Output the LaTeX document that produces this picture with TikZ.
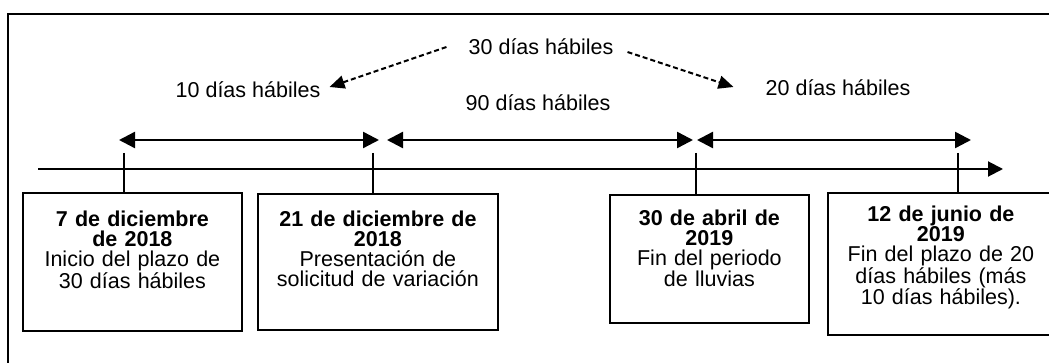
\documentclass[tikz,border=0pt]{standalone}
\usepackage{fontspec}
\setmainfont{Liberation Sans}
\usetikzlibrary{arrows.meta}

\begin{document}
\begin{tikzpicture}[x=1pt,y=-1pt,
    every node/.style={font=\fontsize{21.5}{20}\selectfont, inner sep=0pt},
    fecha/.style={draw, line width=1.8pt, anchor=north west, align=center},
    flecha/.style={line width=2.4pt, {Triangle[length=16pt,width=16pt]}-{Triangle[length=16pt,width=16pt]}},
    guia/.style={line width=2pt, dash pattern=on 5pt off 3pt, -{Triangle[length=15pt,width=13pt]}},
    eje/.style={line width=2pt, -{Triangle[length=15pt,width=15pt]}}
    ]
    \useasboundingbox (0,0) rectangle (1049,363);
    \draw[line width=2.4pt] (8,380) -- (8,14) -- (1070,14);

    % plazos
    \node (t30) at (541,47) {30 días hábiles};
    \node (t10) at (248,90) {10 días hábiles};
    \node (t90) at (538,103) {90 días hábiles};
    \node (t20) at (838,88) {20 días hábiles};
    \draw[guia] ([xshift=-22pt]t30.west) -- ([xshift=9pt,yshift=3pt]t10.east);
    \draw[guia] ([xshift=14pt,yshift=-5pt]t30.east) -- ([xshift=-32pt,yshift=1pt]t20.west);

    % fechas
    \node[fecha, text width=219pt, text height=34pt, text depth=104pt] (f1) at (22,192)
        {\textbf{7 de diciembre}\\ \textbf{de 2018}\\ Inicio del plazo de\\ 30 días hábiles};
    \node[fecha, text width=240pt, text height=33pt, text depth=103pt] (f2) at (257,193)
        {\textbf{21 de diciembre de}\\ \textbf{2018}\\ Presentación de\\ solicitud de variación};
    \node[fecha, text width=199pt, text height=31pt, text depth=97pt] (f3) at (609,194)
        {\textbf{30 de abril de}\\ \textbf{2019}\\ Fin del periodo\\ de lluvias};
    \node[fecha, text width=226pt, text height=29pt, text depth=113pt] (f4) at (827,192)
        {\textbf{12 de junio de}\\ \textbf{2019}\\ Fin del plazo de 20\\ días hábiles (más\\ 10 días hábiles).};

    \coordinate (ini) at (38,169);
    \coordinate (fin) at (1003,169);
    \draw[eje] (ini) -- (fin);
    \foreach \x/\f [count=\i] in {124/f1, 373/f2, 696/f3, 958/f4} {
        \coordinate (k\i) at (\x,153);
        \draw[line width=1.6pt] (k\i) -- (k\i |- \f.north);
    }

    \coordinate (a1) at (119,140);
    \coordinate (a2) at (379,140);
    \coordinate (a3) at (387,140);
    \coordinate (a4) at (693,140);
    \coordinate (a5) at (697,140);
    \coordinate (a6) at (971,140);
    \draw[flecha] (a1) -- (a2);
    \draw[flecha] (a3) -- (a4);
    \draw[flecha] (a5) -- (a6);
\end{tikzpicture}
\end{document}
